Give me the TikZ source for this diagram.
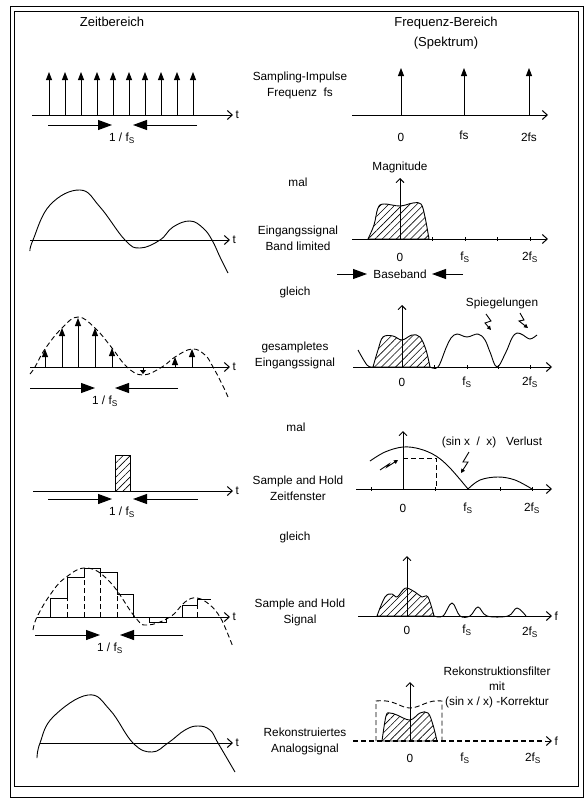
\documentclass[tikz,border=0pt]{standalone}
\usepackage{fontspec}
\setmainfont{Liberation Sans}
\usetikzlibrary{arrows.meta,patterns.meta}
\tikzstyle{rahmen}   = [line width=1pt]
\tikzstyle{achse}    = [line width=1pt, -{Straight Barb[length=5pt,width=9pt]}]
\tikzstyle{impuls}   = [line width=0.9pt, -{Triangle[length=8pt,width=6pt]}]
\tikzstyle{periode}  = [line width=1pt, -{Triangle[length=14pt,width=10pt]}]
\tikzstyle{pfeilauf} = [line width=0.9pt, -{Straight Barb[length=4pt,width=8pt]}]
\tikzstyle{kurve}    = [line width=0.9pt]
\tikzstyle{strichel} = [line width=0.9pt, dash pattern=on 5pt off 3pt]
\tikzstyle{schraff}  = [pattern={Lines[angle=45,distance=5pt,line width=0.6pt]}]
\tikzstyle{kopf}     = [font=\fontsize{13}{20}\selectfont, align=center, inner sep=0pt]
\tikzstyle{beschr}   = [font=\fontsize{11.8}{16}\selectfont, align=center, inner sep=0pt]
\tikzstyle{klein}    = [font=\fontsize{11.8}{14}\selectfont, inner sep=0pt]

\begin{document}
\begin{tikzpicture}[x=1pt,y=-1pt]
\useasboundingbox (0,0) rectangle (587,798);
% Rahmen (doppelt)
\draw[rahmen] (10,6) rectangle (583,797);
\draw[rahmen] (14,11) rectangle (578,786);

% Ueberschriften
\node (zeit) [kopf] at (112,22) {Zeitbereich};
\node (freq) [kopf] at (446,23) {Frequenz-Bereich};
\node (spek) [kopf] at (446,43) {(Spektrum)};

% 1. Sampling-Impulse
\node (txtA) [beschr] at (300,85) {Sampling-Impulse\\Frequenz\ \ fs};
\draw[achse] (32,115) -- (233,115) node[klein, right=2pt] (tA) {t};
\foreach \x in {49,65,...,193}
  \draw[impuls] (\x,115) -- (\x,72);
\draw[periode] (48,125) -- (112,125);
\draw[periode] (197,125) -- (133,125);
\node (perA) [klein] at (122,138) {1 / f\textsubscript{S}};
\draw[achse] (352,115) -- (548,115);
\foreach \x in {401,464,529}
  \draw[impuls] (\x,115) -- (\x,68);
\node (nA) [klein] at (401,137) {0};
\node (fA) [klein] at (464,135) {fs};
\node (ffA) [klein] at (529,137) {2fs};

% 2. Eingangssignal
\node (malA) [beschr] at (298,182) {mal};
\node (txtB) [beschr] at (298,238) {Eingangssignal\\Band limited};
\draw[achse] (30,240) -- (230,240) node[klein, right=2pt] (tB) {t};
\draw[kurve] plot[smooth, tension=0.7] coordinates {(30,251) (33,240) (50,205) (80,190) (100,207) (125,240) (140,248) (160,240) (173,227) (190,221) (203,228) (212,240) (220,257) (228,273)};
\draw[achse] (352,239) -- (548,239);
\foreach \x in {432,465,497,530}
  \draw[kurve] (\x,237) -- (\x,241);
\draw[kurve, schraff] plot[smooth, tension=0.6] coordinates {(368,239) (374,225) (378,208) (384,204) (400,206) (413,203) (421,204) (425,217) (429,239)} -- cycle;
\draw[pfeilauf] (400,239) -- (400,178);
\node (magn) [klein] at (400,167) {Magnitude};
\node (nB) [klein] at (400,257) {0};
\node (fB) [klein] at (465,257) {f\textsubscript{S}};
\node (ffB) [klein] at (530,257) {2f\textsubscript{S}};
\node (base) [klein] at (400,274) {Baseband};
\draw[periode] (337,274) -- (367,274);
\draw[periode] (463,274) -- (432,274);

% 3. gesampletes Eingangssignal
\node (gleichA) [beschr] at (295,292) {gleich};
\node (txtC) [beschr] at (295,355) {gesampletes\\Eingangssignal};
\draw[achse] (30,367) -- (230,367) node[klein, right=2pt] (tC) {t};
\draw[strichel] plot[smooth, tension=0.7] coordinates {(30,374) (35,367) (45,349) (62,328) (78,317) (95,328) (112,348) (127,367) (143,375) (162,367) (175,357) (192,349) (205,355) (213,367) (222,384) (228,397)};
\foreach \x/\y in {45/349,62/328,78/318,95/328,112/348,175/357,192/349}
  \draw[impuls] (\x,367) -- (\x,\y);
\draw[line width=0.9pt, -{Triangle[length=4pt,width=6pt]}] (143,367) -- (143,374);
\draw[periode] (30,388) -- (95,388);
\draw[periode] (178,388) -- (115,388);
\node (perC) [klein] at (105,401) {1 / f\textsubscript{S}};
\draw[achse] (353,367) -- (552,367);
\draw[kurve, schraff] plot[smooth, tension=0.6] coordinates {(373,367) (378,350) (383,337) (393,336) (402,340) (412,335) (420,337) (426,350) (430,367)} -- cycle;
\draw[kurve] plot[smooth, tension=0.6] coordinates {(358,350) (367,365) (373,367)};
\draw[kurve] plot[smooth, tension=0.6] coordinates {(430,367) (438,367) (446,348) (451,338) (457,334) (467,337) (478,334) (485,340) (490,352) (497,367) (506,352) (512,338) (517,333) (523,335) (530,339) (537,335)};
\draw[pfeilauf] (402,367) -- (402,305);
\foreach \x in {434,467,498,530}
  \draw[kurve] (\x,365) -- (\x,369);
\node (spieg) [klein] at (502,303) {Spiegelungen};
\draw[line width=0.9pt, -{Triangle[length=4pt,width=4pt]}] (486,314) -- (491,321) -- (485,323) -- (491,330);
\draw[line width=0.9pt, -{Triangle[length=4pt,width=4pt]}] (520,313) -- (524,320) -- (519,321) -- (528,328);
\node (nC) [klein] at (402,382) {0};
\node (fC) [klein] at (467,382) {f\textsubscript{S}};
\node (ffC) [klein] at (530,382) {2f\textsubscript{S}};

% 4. Sample and Hold Zeitfenster
\node (malB) [beschr] at (296,427) {mal};
\node (txtD) [beschr] at (298,488) {Sample and Hold\\Zeitfenster};
\draw[kurve, schraff] (115,491) rectangle (130,455);
\draw[achse] (33,491) -- (233,491) node[klein, right=2pt] (tD) {t};
\draw[periode] (48,499) -- (112,499);
\draw[periode] (198,499) -- (133,499);
\node (perD) [klein] at (122,512) {1 / f\textsubscript{S}};
\draw[achse] (356,489) -- (552,489);
\foreach \x in {371,435,500,532}
  \draw[kurve] (\x,487) -- (\x,491);
\draw[pfeilauf] (403,489) -- (403,431);
\draw[kurve] plot[smooth, tension=0.6] coordinates {(370,461) (385,452) (403,447) (420,449) (436,456) (450,468) (468,489)};
\draw[kurve] plot[smooth, tension=0.6] coordinates {(468,489) (480,480) (498,477) (515,480) (532,489)};
\draw[strichel] (403,458) -- (436,458) -- (436,489);
\draw[line width=0.9pt, -{Triangle[length=4pt,width=4pt]}] (380,470) -- (389,464) -- (387,467) -- (398,460);
\draw[line width=0.9pt, -{Triangle[length=4pt,width=4pt]}] (469,452) -- (463,462) -- (468,462) -- (461,473);
\node (verl) [klein] at (492,442) {(sin x \ /\ \ x)\ \ \ Verlust};
\node (nD) [klein] at (403,508) {0};
\node (fD) [klein] at (468,508) {f\textsubscript{S}};
\node (ffD) [klein] at (532,508) {2f\textsubscript{S}};

% 5. Sample and Hold Signal
\node (gleichB) [beschr] at (295,537) {gleich};
\node (txtE) [beschr] at (300,612) {Sample and Hold\\Signal};
\draw[achse] (37,617) -- (230,617) node[klein, right=2pt] (tE) {t};
\draw[strichel] plot[smooth, tension=0.7] coordinates {(33,630) (37,617) (50,595) (65,578) (87,568) (110,582) (135,617) (147,625) (170,617) (185,602) (197,598) (210,605) (220,617) (227,632) (233,647)};
\draw[kurve] (37,617) -- (50,617) -- (50,598) -- (67,598) -- (67,577) -- (84,577) -- (84,568) -- (100,568) -- (100,572) -- (117,572) -- (117,594) -- (133,594) -- (133,617) -- (149,617) -- (149,622) -- (166,622) -- (166,617) -- (182,617) -- (182,605) -- (197,605) -- (197,599) -- (211,599);
\foreach \x/\y in {67/598,84/577,100/572,117/594,197/605}
  \draw[strichel] (\x,617) -- (\x,\y);
\draw[periode] (35,635) -- (100,635);
\draw[periode] (183,635) -- (120,635);
\node (perE) [klein] at (110,648) {1 / f\textsubscript{S}};
\draw[achse] (358,616) -- (552,616) node[klein, right=2pt] (fE0) {f};
\draw[kurve, schraff] plot[smooth, tension=0.6] coordinates {(377,616) (385,597) (392,594) (397,597) (403,590) (407,588) (415,592) (422,597) (428,597) (434,616)} -- cycle;
\draw[kurve] plot[smooth, tension=0.6] coordinates {(434,616) (443,616) (452,603) (460,616) (470,616) (478,607) (487,616) (508,616) (517,608) (526,616)};
\draw[pfeilauf] (407,616) -- (407,556);
\node (nE) [klein] at (407,630) {0};
\node (fE) [klein] at (467,630) {f\textsubscript{S}};
\node (ffE) [klein] at (530,632) {2f\textsubscript{S}};

% 6. Rekonstruiertes Analogsignal
\node (txtF) [beschr] at (305,741) {Rekonstruiertes\\Analogsignal};
\draw[achse] (40,743) -- (233,743) node[klein, right=2pt] (tF) {t};
\draw[kurve] plot[smooth, tension=0.7] coordinates {(37,758) (40,743) (53,717) (88,695) (110,710) (133,743) (152,752) (168,743) (185,730) (198,726) (210,730) (218,743) (235,772)};
\node (rekf) [klein, align=center] at (497,687) {Rekonstruktionsfilter\\[1pt]mit\\[1pt](sin x / x) -Korrektur};
\draw[kurve, schraff] plot[smooth, tension=0.6] coordinates {(382,741) (386,716) (390,713) (397,715) (410,720) (420,713) (428,713) (433,725) (437,741)} -- cycle;
\draw[strichel, line width=1.3pt] (353,741) -- (545,741);
\draw[achse] (545,741) -- (552,741) node[klein, right=2pt] (fF0) {f};
\draw[strichel] (376,741) -- (376,701) .. controls (395,699) and (400,708) .. (410,708) .. controls (420,708) and (428,699) .. (442,701) -- (442,741);
\draw[pfeilauf] (410,741) -- (410,682);
\node (nF) [klein] at (410,758) {0};
\node (fF) [klein] at (465,758) {f\textsubscript{S}};
\node (ffF) [klein] at (533,758) {2f\textsubscript{S}};
\end{tikzpicture}
\end{document}
